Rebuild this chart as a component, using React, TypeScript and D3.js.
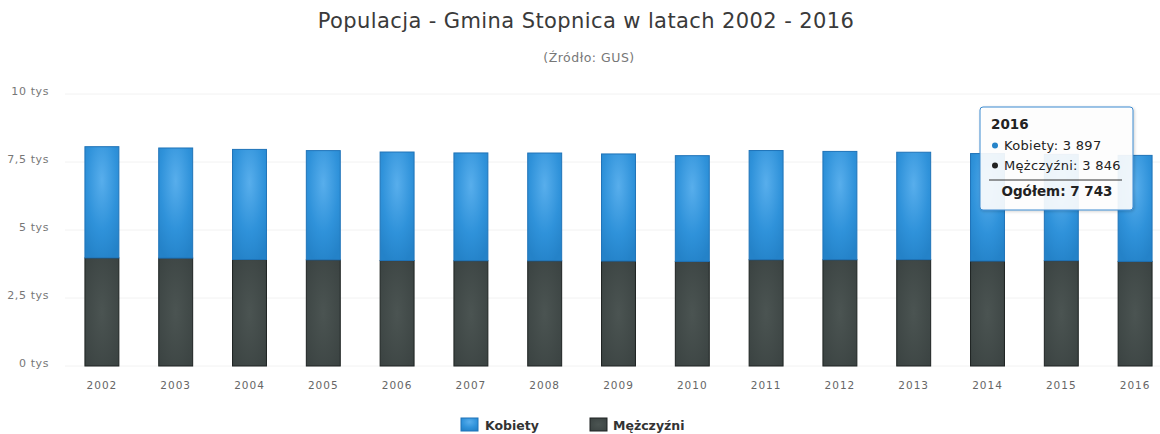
import React from "react";
import * as d3 from "d3";

const years = ["2002", "2003", "2004", "2005", "2006", "2007", "2008", "2009", "2010", "2011", "2012", "2013", "2014", "2015", "2016"];
const kobiety = [4089, 4048, 4048, 4015, 3989, 3963, 3963, 3937, 3889, 4015, 3982, 3948, 3951, 3906, 3897];
const mezczyzni = [3974, 3967, 3915, 3904, 3878, 3870, 3867, 3859, 3844, 3907, 3907, 3911, 3859, 3874, 3846];
const yTicks = [0, 2500, 5000, 7500, 10000];
const yTickLabels = ["0 tys", "2,5 tys", "5 tys", "7,5 tys", "10 tys"];
const seriesNames = ["Kobiety", "Mężczyźni"];

const W = 1160;
const H = 434;
const font = "'DejaVu Sans', Verdana, sans-serif";

const pl = d3.formatLocale({ decimal: ",", thousands: " ", grouping: [3], currency: ["", ""] });
const fmt = pl.format(",d");

export default function App() {
  const rows = years.map((y, i) => ({ year: y, kobiety: kobiety[i], mezczyzni: mezczyzni[i] }));
  // men at the bottom, women stacked on top
  const stacked = d3.stack<any>().keys(["mezczyzni", "kobiety"])(rows);

  const x = d3.scaleBand().domain(years).range([65, 1172]).paddingInner(0.54).paddingOuter(0.27);
  const y = d3.scaleLinear().domain([0, 10000]).range([366, 94]);

  const fills: Record<string, string> = { kobiety: "url(#gBlue)", mezczyzni: "url(#gDark)" };
  const strokes: Record<string, string> = { kobiety: "#1f73b8", mezczyzni: "#1e2322" };

  const last = years.length - 1;
  const tt = { x: 980, y: 107, w: 153, h: 103 };

  return (
    <div>
      <style>{`body{margin:0}`}</style>
      <svg width={W} height={H} style={{ display: "block", background: "#fff" }}>
        <defs>
          <radialGradient id="gBlue" cx="0.5" cy="0.3" r="0.75">
            <stop offset="0" stopColor="#58aeec" />
            <stop offset="0.6" stopColor="#2f92da" />
            <stop offset="1" stopColor="#2482c8" />
          </radialGradient>
          <radialGradient id="gDark" cx="0.5" cy="0.5" r="0.75">
            <stop offset="0" stopColor="#4b5452" />
            <stop offset="1" stopColor="#394140" />
          </radialGradient>
          <filter id="shadow" x="-10%" y="-10%" width="130%" height="130%">
            <feDropShadow dx="1" dy="1" stdDeviation="1.5" floodColor="#000" floodOpacity="0.2" />
          </filter>
        </defs>

        <text x={586} y={28} textAnchor="middle" fontFamily={font} fontSize={21} fill="#3a3a3a" letterSpacing={0.4}>
          Populacja - Gmina Stopnica w latach 2002 - 2016
        </text>
        <text x={589} y={62} textAnchor="middle" fontFamily={font} fontSize={12.5} fill="#777" letterSpacing={0.5}>
          (Źródło: GUS)
        </text>

        {yTicks.map((t, i) => (
          <g key={t}>
            <line x1={65} x2={1160} y1={y(t)} y2={y(t)} stroke="#f2f2f2" strokeWidth={1} />
            <text x={49} y={y(t) - 2} textAnchor="end" dominantBaseline="middle" fontFamily={font} fontSize={11} fill="#777" letterSpacing={0.6}>
              {yTickLabels[i]}
            </text>
          </g>
        ))}

        {stacked.map((s) => (
          <g key={s.key}>
            {s.map((d, i) => (
              <rect
                key={years[i]}
                x={x(years[i])}
                y={y(d[1])}
                width={x.bandwidth()}
                height={y(d[0]) - y(d[1])}
                fill={fills[s.key]}
                stroke={strokes[s.key]}
                strokeWidth={1}
              />
            ))}
          </g>
        ))}

        {years.map((yr) => (
          <text key={yr} x={(x(yr) as number) + x.bandwidth() / 2} y={386} textAnchor="middle" dominantBaseline="middle" fontFamily={font} fontSize={10.5} fill="#666" letterSpacing={1}>
            {yr}
          </text>
        ))}

        <g fontFamily={font} fontSize={12.5} fontWeight="bold" fill="#333">
          <rect x={461} y={418} width={17} height={13} fill="url(#gBlue)" stroke="#1f73b8" />
          <text x={485} y={430}>{seriesNames[0]}</text>
          <rect x={590} y={418} width={17} height={13} fill="url(#gDark)" stroke="#1e2322" />
          <text x={613} y={430}>{seriesNames[1]}</text>
        </g>

        <g fontFamily={font} fill="#222">
          <rect x={tt.x} y={tt.y} width={tt.w} height={tt.h} rx={3} fill="rgba(255,255,255,0.9)" stroke="#3d8bd0" strokeWidth={1} filter="url(#shadow)" />
          <text x={991} y={129} fontSize={13.5} fontWeight="bold">{years[last]}</text>
          <circle cx={995} cy={145.5} r={3} fill="#2684c9" />
          <text x={1004} y={150} fontSize={13} letterSpacing={0.3}>{`${seriesNames[0]}: ${fmt(kobiety[last])}`}</text>
          <circle cx={995} cy={165.5} r={3} fill="#222" />
          <text x={1004} y={170} fontSize={13} letterSpacing={0.3}>{`${seriesNames[1]}: ${fmt(mezczyzni[last])}`}</text>
          <line x1={989} x2={1122} y1={180} y2={180} stroke="#333" strokeWidth={1} />
          <text x={1057} y={196} fontSize={13.5} fontWeight="bold" textAnchor="middle">
            {`Ogółem: ${fmt(kobiety[last] + mezczyzni[last])}`}
          </text>
        </g>
      </svg>
    </div>
  );
}
